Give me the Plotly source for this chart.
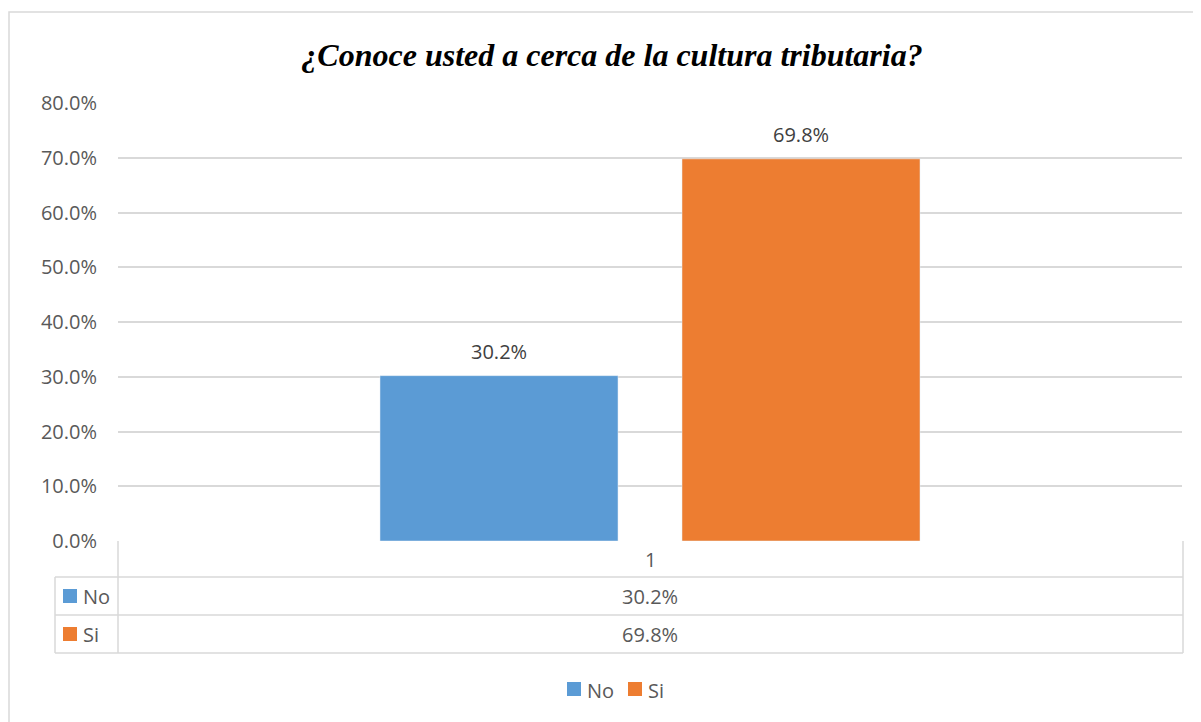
import plotly.graph_objects as go

category = ["1"]
series_names = ["No", "Si"]
series_values = [[0.302], [0.698]]
series_colors = ["#5B9BD5", "#ED7D31"]
y_ticks = [0, 0.1, 0.2, 0.3, 0.4, 0.5, 0.6, 0.7, 0.8]

# page body has an 8px margin, so the figure is drawn shifted by 8px
OFF = 8
W, H = 1201 - OFF, 722 - OFF
L, R, T, B = 118, 1182, 103, 541  # plot area in reference pixels


def px(x):
    return (x - L) / (R - L)


def py(y):
    return (B - y) / (B - T)


grid = "#d9d9d9"
txt = "#595959"
FS = 20

fig = go.Figure()
for name, vals, col in zip(series_names, series_values, series_colors):
    fig.add_trace(go.Bar(x=category, y=vals, name=name, marker_color=col,
                         showlegend=False))

shapes = []
annotations = []

# outer chart border
shapes.append(dict(type="rect", xref="paper", yref="paper",
                   x0=px(9), x1=px(1210), y0=py(735), y1=py(12),
                   line=dict(color=grid, width=1.5)))

# data labels above bars (category axis: index 0 is the single category)
offsets = [-151, 151]
for vals, dx in zip(series_values, offsets):
    annotations.append(dict(text=f"{vals[0]*100:.1f}%", x=0, y=vals[0],
                            xref="x", yref="y", xshift=dx, yshift=24,
                            yanchor="middle", showarrow=False,
                            font=dict(size=FS, color="#404040")))

# data table lines
for yy in [577, 615, 653]:
    shapes.append(dict(type="line", xref="paper", yref="paper",
                       x0=px(55), x1=px(1183), y0=py(yy), y1=py(yy),
                       line=dict(color=grid, width=1.5)))
shapes.append(dict(type="line", xref="paper", yref="paper",
                   x0=px(55), x1=px(55), y0=py(577), y1=py(653),
                   line=dict(color=grid, width=1.5)))
for xx in [118, 1183]:
    shapes.append(dict(type="line", xref="paper", yref="paper",
                       x0=px(xx), x1=px(xx), y0=py(541), y1=py(653),
                       line=dict(color=grid, width=1.5)))

annotations.append(dict(text=category[0], xref="paper", yref="paper",
                        x=0.5, y=py(559), yanchor="middle", showarrow=False,
                        font=dict(size=FS, color=txt)))
row_y = [596, 634]
for name, vals, col, yy in zip(series_names, series_values, series_colors, row_y):
    annotations.append(dict(text=f"{vals[0]*100:.1f}%", xref="paper", yref="paper",
                            x=0.5, y=py(yy), yanchor="middle", showarrow=False,
                            font=dict(size=FS, color=txt)))
    shapes.append(dict(type="rect", xref="paper", yref="paper",
                       x0=px(63), x1=px(77), y0=py(yy - 7), y1=py(yy + 7),
                       fillcolor=col, line=dict(width=0)))
    annotations.append(dict(text=name, xref="paper", yref="paper",
                            x=px(81), y=py(yy), xanchor="left", yanchor="middle",
                            showarrow=False, font=dict(size=FS, color=txt)))

# legend at the bottom
leg_x = [567, 628]
for name, col, lx in zip(series_names, series_colors, leg_x):
    shapes.append(dict(type="rect", xref="paper", yref="paper",
                       x0=px(lx), x1=px(lx + 14), y0=py(682), y1=py(696),
                       fillcolor=col, line=dict(width=0)))
    annotations.append(dict(text=name, xref="paper", yref="paper",
                            x=px(lx + 18), y=py(690), xanchor="left", yanchor="middle",
                            showarrow=False, font=dict(size=FS, color=txt)))

fig.update_layout(
    width=W, height=H,
    margin=dict(l=L - OFF, r=W - (R - OFF), t=T - OFF, b=H - (B - OFF)),
    paper_bgcolor="white", plot_bgcolor="white",
    font=dict(family="Open Sans, Liberation Sans, sans-serif", color=txt),
    title=dict(text="¿Conoce usted a cerca de la cultura tributaria?",
               x=(612 - OFF) / W, xanchor="center", y=1 - (55 - OFF) / H, yanchor="middle",
               font=dict(family="Liberation Serif, Times New Roman, serif",
                         size=32, color="black", weight="bold", style="italic")),
    barmode="group", bargap=0.4323, bargroupgap=0.212,
    xaxis=dict(type="category", range=[-0.5, 0.5], showticklabels=False,
               showline=False, showgrid=False, zeroline=False),
    yaxis=dict(range=[0, 0.8], tickvals=y_ticks, tickformat=".1%",
               showgrid=True, gridcolor=grid, gridwidth=1.5, zeroline=False,
               showline=False, ticks="", ticklabelstandoff=20,
               tickfont=dict(size=FS, color=txt)),
    showlegend=False,
    shapes=shapes, annotations=annotations,
)

fig.write_html("out.html")
